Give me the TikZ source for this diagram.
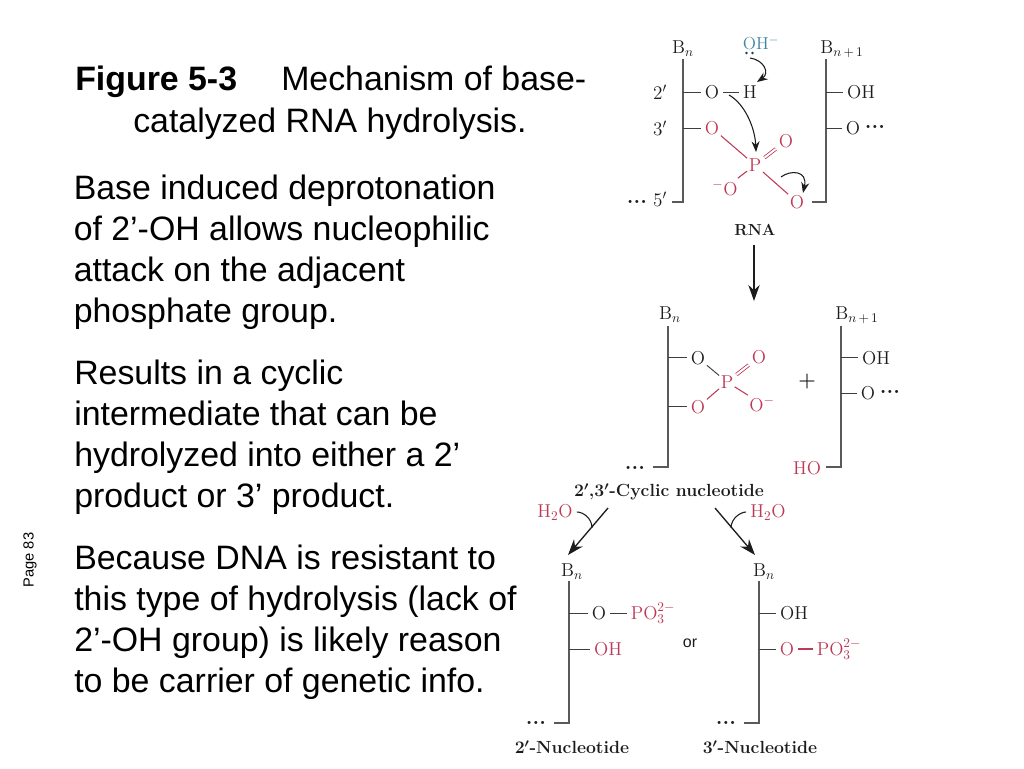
\documentclass[tikz,border=0pt]{standalone}
\usepackage{fontspec}
\usetikzlibrary{arrows.meta}
\newfontfamily\arialf{Liberation Sans}
\definecolor{chemred}{HTML}{BC3A55}
\definecolor{chemblue}{HTML}{3F86A6}
\definecolor{chemblack}{HTML}{1C1C1C}
\definecolor{spinegrey}{HTML}{5A5A5A}
\tikzset{
  para/.style={anchor=north west,inner sep=0pt,align=left,text=black,font=\arialf\fontsize{25.4}{30.75}\selectfont},
  titleline/.style={anchor=base west,inner sep=0pt,text=black,font=\arialf\fontsize{25.4}{30}\selectfont},
  atom/.style={inner sep=3pt,text=chemblack,font=\fontsize{14}{16}\selectfont},
  ratom/.style={atom,text=chemred},
  chemlabel/.style={inner sep=0pt,text=chemblack,font=\fontsize{13.2}{15}\selectfont\bfseries\boldmath},
  dotsl/.style={inner sep=0pt,text=chemblack,font=\fontsize{16}{16}\selectfont\bfseries},
  lonepair/.style={circle,inner sep=0pt,minimum size=2.2pt,fill=chemblack!70!chemblue},
  spine/.style={draw=spinegrey,line width=1.2pt},
  bond/.style={draw=chemblack!85,line width=0.7pt},
  rbond/.style={draw=chemred,line width=0.8pt},
  longer/.style={shorten <=-2.5pt,shorten >=-2.5pt},
  rdouble/.style={draw=chemred,line width=0.6pt,double=white,double distance=1.5pt,shorten <=-1pt,shorten >=-1pt},
  mainarrow/.style={draw=chemblack,line width=1pt,-{Stealth[length=12pt,width=8.5pt]}},
  curvearrow/.style={draw=chemblack,line width=0.8pt,-{Stealth[length=8pt,width=6pt]}},
  watercurve/.style={draw=chemblack,line width=0.8pt},
}
\begin{document}
\begin{tikzpicture}[x=0.75pt,y=-0.75pt]
\useasboundingbox (0,0) rectangle (1024,768);
% ---- text column
\node[titleline] (t1) at (75,90) {\bfseries Figure 5-3};
\node[titleline] (t2) at (281,90) {Mechanism of base-};
\node[titleline] (t3) at (133,132) {catalyzed RNA hydrolysis.};
\node[para] (p1) at (73.5,174.5) {Base induced deprotonation\\of 2’-OH allows nucleophilic\\attack on the adjacent\\phosphate group.};
\node[para] (p2) at (74,359.5) {Results in a cyclic\\intermediate that can be\\hydrolyzed into either a 2’\\product or 3’ product.};
\node[para] (p3) at (74,544.5) {Because DNA is resistant to\\this type of hydrolysis (lack of\\2’-OH group) is likely reason\\to be carrier of genetic info.};
\node[rotate=90,inner sep=0pt,text=black,font=\arialf\fontsize{11}{12}\selectfont] (pg) at (30,560) {Page 83};
% ---- RNA
\node[atom] (b1) at (683,49) {B$_n$};
\node[atom] (b2) at (842,49) {B$_{n\,+\,1}$};
\node[atom] (l2) at (660,92) {$2'$};
\node[atom] (l3) at (660,128) {$3'$};
\node[atom] (l5) at (660,199) {$5'$};
\node[dotsl] (d5) at (637,202) {...};
\node[inner sep=0pt,text=chemblue,font=\fontsize{13}{15}\selectfont] (oh) at (761,43) {OH$^{-}$};
\node[lonepair] (lp1) at (746.5,53) {};
\node[lonepair] (lp2) at (752.5,53) {};
\node[atom] (o2) at (712,92) {O};
\node[atom] (h2) at (750,92) {H};
\node[ratom] (o3) at (712,128) {O};
\node[ratom] (pp) at (755,165) {P};
\node[ratom] (od) at (786,141) {O};
\node[ratom] (om) at (725,188) {$^{-}$O};
\node[ratom] (o5) at (797,202) {O};
\node[atom] (oh2) at (861,92) {OH};
\node[atom] (o4) at (853,128) {O};
\node[dotsl] (d4) at (875,127) {...};
\node[chemlabel,font=\fontsize{12}{14}\selectfont\bfseries] (rna) at (755,230) {RNA};
\coordinate (s1t) at (683,59); \coordinate (s1b) at (683,202);
\coordinate (s2t) at (826,59); \coordinate (s2b) at (826,202);
\coordinate (s1a) at (683,92); \coordinate (s1c) at (683,128);
\coordinate (s2a) at (826,92); \coordinate (s2c) at (826,128);
\coordinate (s1e) at (672,202); \coordinate (s2e) at (812,202);
\draw[spine] (s1t) -- (s1b) -- (s1e);
\draw[spine] (s2t) -- (s2b) -- (s2e);
\draw[bond] (s1a) -- (o2);
\draw[bond] (s1c) -- (o3);
\draw[bond] (s2a) -- (oh2);
\draw[bond] (s2c) -- (o4);
\draw[bond] (o2) -- (h2);
\draw[rbond,longer] (o3) -- (pp);
\draw[rbond,longer] (pp) -- (om);
\draw[rbond,longer] (pp) -- (o5);
\draw[rdouble] (pp) -- (od);
\coordinate (c1a) at (750,58); \coordinate (c1b) at (757,82);
\coordinate (c2a) at (729,95); \coordinate (c2b) at (756,152);
\coordinate (c3a) at (781,177); \coordinate (c3b) at (803,193);
\draw[curvearrow] (c1a) .. controls (764,60) and (770,73) .. (c1b);
\draw[curvearrow] (c2a) .. controls (745,104) and (755,128) .. (c2b);
\draw[curvearrow] (c3a) .. controls (790,170) and (808,170) .. (c3b);
\coordinate (a1a) at (754,245); \coordinate (a1b) at (754,301);
\draw[mainarrow] (a1a) -- (a1b);
% ---- cyclic nucleotide
\node[atom] (b3) at (670,315) {B$_n$};
\node[atom] (b4) at (857,315) {B$_{n\,+\,1}$};
\node[atom] (o6) at (698,358) {O};
\node[ratom] (o7) at (698,407) {O};
\node[ratom] (p2p) at (727,382) {P};
\node[ratom] (o8) at (759,357) {O};
\node[ratom] (o9) at (762,404) {O$^{-}$};
\node[atom,font=\fontsize{15}{15}\selectfont\bfseries] (plus) at (807,382) {+};
\node[atom] (oh3) at (876,358) {OH};
\node[atom] (o10) at (868,393) {O};
\node[dotsl] (d10) at (890,392) {...};
\node[ratom] (ho) at (807,468) {HO};
\node[dotsl] (d6) at (635,468) {...};
\node[chemlabel] (cyc) at (669,492) {2$'$,3$'$-Cyclic nucleotide};
\coordinate (s3t) at (668,326); \coordinate (s3b) at (668,467); \coordinate (s3e) at (653,467);
\coordinate (s4t) at (841,326); \coordinate (s4b) at (841,467); \coordinate (s4e) at (826,467);
\coordinate (s3a) at (668,357); \coordinate (s3c) at (668,406);
\coordinate (s4a) at (841,357); \coordinate (s4c) at (841,393);
\draw[spine] (s3t) -- (s3b) -- (s3e);
\draw[spine] (s4t) -- (s4b) -- (s4e);
\draw[bond] (s3a) -- (s3a -| o6.west);
\draw[bond] (s3c) -- (s3c -| o7.west);
\draw[bond] (s4a) -- (s4a -| oh3.west);
\draw[bond] (s4c) -- (o10);
\draw[bond,longer] (o6) -- (p2p);
\draw[rbond,longer] (o7) -- (p2p);
\draw[rbond,longer] (p2p) -- (o9);
\draw[rdouble] (p2p) -- (o8);
% ---- hydrolysis arrows
\node[ratom] (w1) at (555,512) {H$_2$O};
\node[ratom] (w2) at (768,512) {H$_2$O};
\coordinate (a2a) at (608,508); \coordinate (a2b) at (568,555);
\coordinate (a3a) at (715,508); \coordinate (a3b) at (755,555);
\coordinate (m2) at (592,528); \coordinate (m3) at (731,528);
\draw[mainarrow] (a2a) -- (a2b);
\draw[mainarrow] (a3a) -- (a3b);
\draw[watercurve] (w1.east) .. controls (583,512) and (592,518) .. (m2);
\draw[watercurve] (w2.west) .. controls (741,512) and (731,518) .. (m3);
% ---- 2' nucleotide
\node[atom] (b5) at (572,572) {B$_n$};
\node[atom] (o11) at (599,613) {O};
\node[ratom] (po1) at (653,613) {PO$_3^{2-}$};
\node[ratom] (oh4) at (608,649) {OH};
\node[dotsl] (d11) at (536,723) {...};
\node[chemlabel] (n2) at (572,747) {2$'$-Nucleotide};
\coordinate (s5t) at (569,581); \coordinate (s5b) at (569,723); \coordinate (s5e) at (554,723);
\coordinate (s5a) at (569,613); \coordinate (s5c) at (569,649);
\draw[spine] (s5t) -- (s5b) -- (s5e);
\draw[bond] (s5a) -- (o11);
\draw[bond] (s5c) -- (oh4);
\draw[bond] (o11) -- (po1);
% ---- or
\node[inner sep=0pt,text=chemblack,font=\arialf\fontsize{12}{14}\selectfont] (orl) at (690,643) {or};
% ---- 3' nucleotide
\node[atom] (b6) at (764,572) {B$_n$};
\node[atom] (oh5) at (794,613) {OH};
\node[ratom] (o12) at (787,649) {O};
\node[ratom] (po2) at (839,649) {PO$_3^{2-}$};
\node[dotsl] (d12) at (726,723) {...};
\node[chemlabel] (n3) at (760,747) {3$'$-Nucleotide};
\coordinate (s6t) at (759,581); \coordinate (s6b) at (759,723); \coordinate (s6e) at (744,723);
\coordinate (s6a) at (759,613); \coordinate (s6c) at (759,649);
\draw[spine] (s6t) -- (s6b) -- (s6e);
\draw[bond] (s6a) -- (oh5);
\draw[bond] (s6c) -- (o12);
\draw[rbond] (o12) -- (po2);
\end{tikzpicture}
\end{document}
